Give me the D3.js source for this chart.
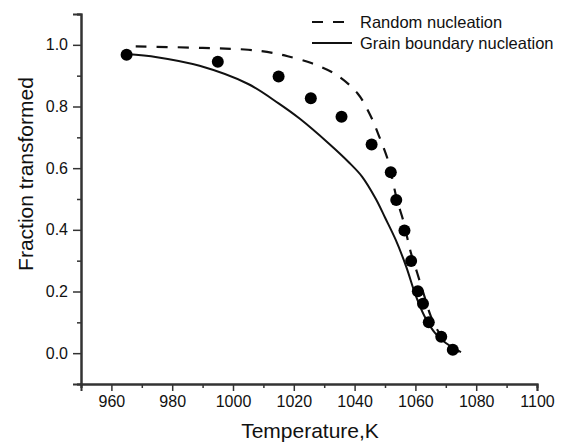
<!DOCTYPE html>
<html>
<head>
<meta charset="utf-8">
<script src="https://cdn.jsdelivr.net/npm/d3@7"></script>
<style>
  body { margin: 0; background: #fff; }
  text { font-family: "Liberation Sans", Arial, sans-serif; fill: #111; }
</style>
</head>
<body>
<svg id="chart" width="570" height="443"></svg>
<script>
// measured points (circles)
const meas_T = [965, 995, 1015, 1025.6, 1035.7, 1045.6, 1051.9, 1053.7, 1056.4, 1058.6, 1060.8, 1062.5, 1064.4, 1068.5, 1072.3];
const meas_f = [0.968, 0.945, 0.897, 0.827, 0.767, 0.677, 0.587, 0.497, 0.398, 0.299, 0.201, 0.16, 0.10, 0.053, 0.011];

// random nucleation (dashed)
const random_T = [968, 990, 1005, 1013, 1018, 1026, 1034, 1041, 1045, 1048, 1051, 1052.5, 1054, 1056, 1058.4, 1060.6, 1063.3, 1065, 1067.7, 1071, 1075.5];
const random_f = [0.995, 0.99, 0.984, 0.974, 0.963, 0.94, 0.903, 0.842, 0.775, 0.705, 0.625, 0.56, 0.495, 0.43, 0.33, 0.26, 0.174, 0.122, 0.068, 0.03, -0.003];

// grain boundary nucleation (solid)
const grain_T = [965, 975, 989, 1005, 1015, 1022, 1031.5, 1038, 1042.5, 1047, 1050, 1053.5, 1057, 1060, 1063, 1066.5, 1070, 1075];
const grain_f = [0.97, 0.96, 0.932, 0.873, 0.81, 0.76, 0.68, 0.62, 0.572, 0.50, 0.44, 0.368, 0.28, 0.19, 0.12, 0.065, 0.033, 0.003];

const x_major = [960, 980, 1000, 1020, 1040, 1060, 1080, 1100];
const x_minor = [950, 970, 990, 1010, 1030, 1050, 1070, 1090];
const y_major = [0.0, 0.2, 0.4, 0.6, 0.8, 1.0];
const y_minor = [-0.1, 0.1, 0.3, 0.5, 0.7, 0.9, 1.1];

const legend_labels = ['Random nucleation', 'Grain boundary nucleation'];

let width = 570, height = 443;
let margin = {left: 81, right: 33, top: 14, bottom: 59};

var svg = d3.select('#chart');

var x = d3.scaleLinear()
    .domain([950, 1100])
    .range([margin.left, width - margin.right]);

var y = d3.scaleLinear()
    .domain([-0.1, 1.1])
    .range([height - margin.bottom, margin.top]);

function style_axis(g) {
    g.select('.domain').attr('stroke', '#333').attr('stroke-width', 2);
    g.selectAll('.tick line').attr('stroke', '#333').attr('stroke-width', 1.5);
    g.selectAll('.tick text').attr('fill', '#111').style('font-size', '16px');
}

// x axis
svg.append('g')
    .attr('transform', 'translate(0,' + (height - margin.bottom) + ')')
    .call(d3.axisBottom(x).tickValues(x_minor).tickSize(4).tickFormat(''))
    .call(style_axis);
svg.append('g')
    .attr('transform', 'translate(0,' + (height - margin.bottom) + ')')
    .call(d3.axisBottom(x).tickValues(x_major).tickSize(7).tickPadding(5).tickFormat(d3.format('d')))
    .call(style_axis);

// y axis
svg.append('g')
    .attr('transform', 'translate(' + margin.left + ',0)')
    .call(d3.axisLeft(y).tickValues(y_minor).tickSize(4).tickFormat(''))
    .call(style_axis);
svg.append('g')
    .attr('transform', 'translate(' + margin.left + ',0)')
    .call(d3.axisLeft(y).tickValues(y_major).tickSize(8).tickPadding(5).tickFormat(d3.format('.1f')))
    .call(style_axis);

// axis titles
svg.append('text')
    .attr('x', 310)
    .attr('y', 438)
    .attr('text-anchor', 'middle')
    .style('font-size', '21px')
    .text('Temperature,K');

svg.append('text')
    .attr('transform', 'translate(33,174) rotate(-90)')
    .attr('text-anchor', 'middle')
    .style('font-size', '21px')
    .text('Fraction transformed');

// curves
var line = d3.line()
    .x(function (d) { return x(d[0]); })
    .y(function (d) { return y(d[1]); })
    .curve(d3.curveCatmullRom.alpha(0.5));

svg.append('path')
    .datum(d3.zip(random_T, random_f))
    .attr('d', line)
    .attr('fill', 'none')
    .attr('stroke', '#111')
    .attr('stroke-width', 2.2)
    .attr('stroke-dasharray', '11,10');

svg.append('path')
    .datum(d3.zip(grain_T, grain_f))
    .attr('d', line)
    .attr('fill', 'none')
    .attr('stroke', '#111')
    .attr('stroke-width', 2);

// measured points
svg.append('g')
    .selectAll('circle')
    .data(d3.zip(meas_T, meas_f))
    .enter()
    .append('circle')
    .attr('cx', function (d) { return x(d[0]); })
    .attr('cy', function (d) { return y(d[1]); })
    .attr('r', 6)
    .attr('fill', '#000');

// legend
var legend = svg.append('g');
legend_labels.forEach(function (label, i) {
    let ly = 22 + i * 21;
    legend.append('line')
        .attr('x1', 312).attr('x2', 352)
        .attr('y1', ly).attr('y2', ly)
        .attr('stroke', '#111')
        .attr('stroke-width', 2)
        .attr('stroke-dasharray', i == 0 ? '11,10' : null);
    legend.append('text')
        .attr('x', 360)
        .attr('y', ly + 5.5)
        .style('font-size', '16.5px')
        .text(label);
});
</script>
</body>
</html>
